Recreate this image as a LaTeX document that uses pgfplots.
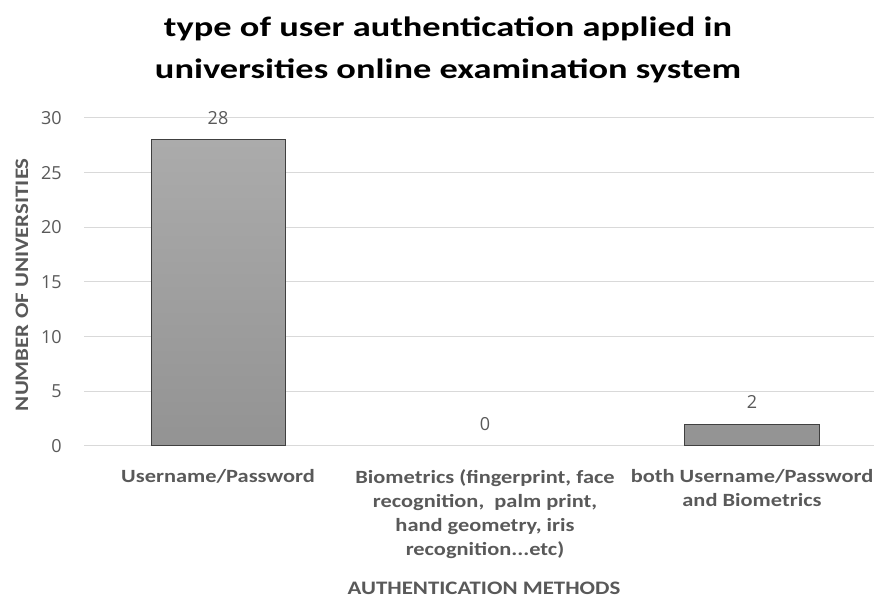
\documentclass[border=0pt]{standalone}
\usepackage{fontspec}
\setmainfont{Carlito}
\newfontfamily\ticksfont{Open Sans}
\newfontfamily\labfont{Carlito}[FakeStretch=1.2]
\newfontfamily\titlefont{Carlito}[FakeStretch=1.3]
\usepackage{pgfplots}
\pgfplotsset{compat=1.18}
\definecolor{txt}{HTML}{595959}
\definecolor{gridc}{HTML}{D9D9D9}
\definecolor{bartop}{HTML}{ABABAB}
\definecolor{barbot}{HTML}{939393}
\definecolor{barline}{HTML}{404040}
\newcommand\tdots{...}
\begin{document}
\begin{tikzpicture}
\useasboundingbox (-63pt,-114.75pt) rectangle (592.5pt,334.5pt);
\begin{axis}[
  at={(0,0)}, anchor=south west,
  scale only axis, width=592.5pt, height=246pt,
  xmin=-0.502, xmax=2.457, ymin=0, ymax=30,
  ytick={0,5,10,15,20,25,30}, xtick={0,1,2},
  xticklabels={Username/Password,
    {Biometrics (fingerprint, face\\recognition,\ \ palm print,\\hand geometry, iris\\recognition\tdots etc)},
    {both Username/Password\\and Biometrics}},
  axis line style={draw=none},
  major tick length=0pt,
  ymajorgrids, grid style={gridc, line width=0.75pt},
  yticklabel style={anchor=east, inner sep=0pt, xshift=-16.5pt, font=\ticksfont\fontsize{13.5}{15}\selectfont, text=txt},
  /pgf/number format/assume math mode=true,
  xticklabel style={anchor=north, inner sep=0pt, yshift=-17.5pt, align=center, font=\labfont\bfseries\fontsize{14}{18}\selectfont, text=txt},
  ybar, bar width=100.5pt, bar shift=0pt,
  nodes near coords,
  every node near coord/.append style={anchor=center, inner sep=0pt, yshift=16.5pt, font=\ticksfont\fontsize{13.5}{15}\selectfont, text=txt},
  clip=false,
]
\addplot[draw=barline, line width=0.75pt, top color=bartop, bottom color=barbot] coordinates {(0,28) (2,2)};
\addplot[draw=none, fill=none] coordinates {(1,0)};
\end{axis}
\node[rotate=90, font=\labfont\bfseries\fontsize{14.3}{16}\selectfont, text=txt] at (-46.5pt,121pt) {NUMBER OF UNIVERSITIES};
\node[font=\labfont\bfseries\fontsize{14.3}{16}\selectfont, text=txt] at (300pt,-106.5pt) {AUTHENTICATION METHODS};
\node[align=center, font=\titlefont\bfseries\fontsize{21}{32}\selectfont] at (273pt,297pt) {type of user authentication applied in\\universities online examination system};
\end{tikzpicture}
\end{document}
